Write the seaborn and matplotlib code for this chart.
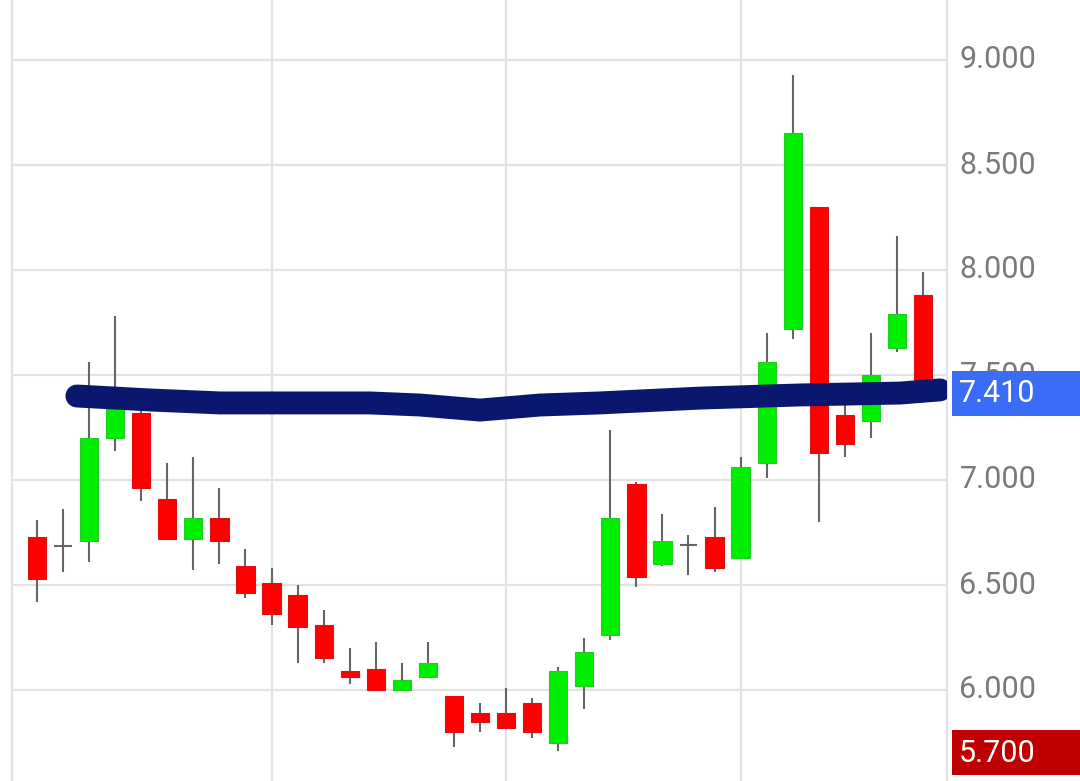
import numpy as np
import pandas as pd
import matplotlib
matplotlib.use("Agg")
import matplotlib.pyplot as plt
import matplotlib.transforms as mtransforms
from matplotlib.patches import Rectangle
import seaborn as sns

# ---------------- data ----------------
opens  = [6.73, 6.68, 6.71, 7.20, 7.32, 6.91, 6.72, 6.82, 6.59, 6.51,
          6.45, 6.31, 6.09, 6.10, 6.00, 6.06, 5.97, 5.89, 5.89, 5.94,
          5.75, 6.02, 6.26, 6.98, 6.60, 6.69, 6.73, 6.63, 7.08, 7.72,
          8.30, 7.31, 7.28, 7.63, 7.88]
highs  = [6.81, 6.86, 7.56, 7.78, 7.33, 7.08, 7.11, 6.96, 6.67, 6.58,
          6.50, 6.38, 6.20, 6.23, 6.13, 6.23, 5.97, 5.94, 6.01, 5.96,
          6.11, 6.25, 7.24, 6.99, 6.84, 6.74, 6.87, 7.11, 7.70, 8.93,
          8.30, 7.45, 7.70, 8.16, 7.99]
lows   = [6.42, 6.56, 6.61, 7.14, 6.90, 6.72, 6.57, 6.60, 6.44, 6.31,
          6.13, 6.13, 6.03, 6.00, 6.00, 6.06, 5.73, 5.80, 5.82, 5.77,
          5.71, 5.91, 6.24, 6.49, 6.59, 6.55, 6.56, 6.63, 7.01, 7.67,
          6.80, 7.11, 7.20, 7.61, 7.41]
closes = [6.53, 6.69, 7.20, 7.40, 6.96, 6.72, 6.82, 6.71, 6.46, 6.36,
          6.30, 6.15, 6.06, 6.00, 6.05, 6.13, 5.80, 5.85, 5.82, 5.80,
          6.09, 6.18, 6.82, 6.54, 6.71, 6.69, 6.58, 7.06, 7.56, 8.65,
          7.13, 7.17, 7.50, 7.79, 7.41]

# hand-drawn trend line (candle index, price)
line_x = [1.53, 4.34, 7.02, 12.78, 14.70, 17.00, 19.30, 21.60, 25.44, 29.28, 33.12, 34.65]
line_y = [7.400, 7.381, 7.367, 7.367, 7.357, 7.333, 7.357, 7.367, 7.390, 7.405, 7.414, 7.429]

ytick_vals = [6.0, 6.5, 7.0, 7.5, 8.0, 8.5, 9.0]
ytick_labels = ["6.000", "6.500", "7.000", "7.500", "8.000", "8.500", "9.000"]
vgrid_x = [9, 18, 27]
last_price = 7.41
last_label = "7.410"
low_price = 5.70
low_label = "5.700"

# ---------------- style ----------------
sns.set_theme(style="white")
plt.rcParams["font.family"] = ["Roboto", "DejaVu Sans"]

W, H = 1080, 781
fig = plt.figure(figsize=(W / 100, H / 100), dpi=100)
ax_left, ax_right = 12, 947
ax = fig.add_axes([ax_left / W, 0, (ax_right - ax_left) / W, 1])

df = pd.DataFrame({"o": opens, "h": highs, "l": lows, "c": closes})
df["i"] = np.arange(len(df))

GREEN = "#00ee00"
RED = "#ff0000"
WICK = "#666666"
GRID = "#e3e3e3"

# grid
for v in ytick_vals:
    ax.axhline(v, color=GRID, lw=1.6, zorder=0)
for v in vgrid_x:
    ax.axvline(v, color=GRID, lw=1.6, zorder=0)

# wicks
ax.vlines(df["i"], df["l"], df["h"], color=WICK, lw=1.5, zorder=1)

# bodies
bw = 0.7
for _, r in df.iterrows():
    o, c = r["o"], r["c"]
    if abs(c - o) < 0.015:
        ax.hlines((o + c) / 2, r["i"] - 0.33, r["i"] + 0.33, color=WICK, lw=1.5, zorder=2)
        continue
    col = GREEN if c > o else RED
    edge = "#22cc22" if c > o else "#dd1111"
    ax.bar(r["i"], abs(c - o), bottom=min(o, c), width=bw, color=col,
           edgecolor=edge, linewidth=0.8, zorder=2)

# navy trend line
sns.lineplot(x=line_x, y=line_y, ax=ax, color="#0a176e", lw=16.5,
             solid_capstyle="round", solid_joinstyle="round", zorder=5, sort=False)

ax.set_xlim((ax_left - 37) / 26.06, (ax_right - 37) / 26.06)
top_val = 7.5 + 375 / 210
bot_val = 7.5 - (H - 375) / 210
ax.set_ylim(bot_val, top_val)

ax.set_xticks([])
ax.yaxis.tick_right()
ax.set_yticks(ytick_vals)
ax.set_yticklabels(ytick_labels)
ax.tick_params(axis="y", length=0, pad=9.0, labelsize=22, labelcolor="#7a7a7a")
for lab in ax.get_yticklabels():
    lab.set_verticalalignment("center")

for s in ["top", "bottom"]:
    ax.spines[s].set_visible(False)
for s in ["left", "right"]:
    ax.spines[s].set_color(GRID)
    ax.spines[s].set_linewidth(1.6)

# price label boxes
trans = mtransforms.blended_transform_factory(ax.transAxes, ax.transData)
box_x0 = (952 - ax_left) / (ax_right - ax_left)
txt_x = (959 - ax_left) / (ax_right - ax_left)
box_h = 45 / 210
for val, lab, col in [(last_price, last_label, "#3a6cf6"), (low_price, low_label, "#c00000")]:
    ax.add_patch(Rectangle((box_x0, val - box_h / 2), 0.3, box_h, transform=trans,
                           facecolor=col, edgecolor="none", clip_on=False, zorder=10))
    ax.text(txt_x, val, lab, transform=trans, color="white", fontsize=22,
            va="center", ha="left", zorder=11, clip_on=False)

fig.savefig("out.png", dpi=100)
